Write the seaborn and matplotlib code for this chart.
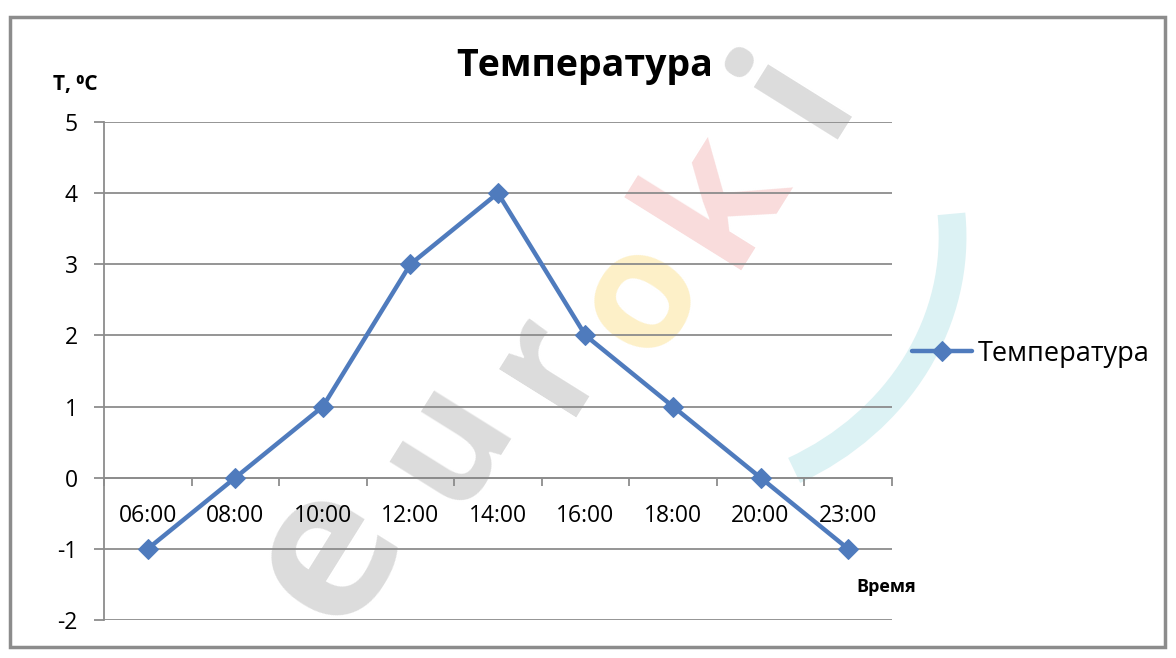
import matplotlib
matplotlib.use("Agg")
import matplotlib.pyplot as plt
import seaborn as sns
import pandas as pd
from matplotlib.patches import Rectangle, Arc

times = ["06:00", "08:00", "10:00", "12:00", "14:00", "16:00", "18:00", "20:00", "23:00"]
temps = [-1, 0, 1, 3, 4, 2, 1, 0, -1]
series_name = "Температура"

df = pd.DataFrame({"time": times, "temp": temps})

sns.set_style("white")
plt.rcParams["font.family"] = ["Open Sans", "DejaVu Sans"]
plt.rcParams["axes.unicode_minus"] = False
plt.rcParams["text.color"] = "black"

fig = plt.figure(figsize=(11.76, 6.58), dpi=100)
ax = fig.add_axes([0.0884, 0.0578, 0.670, 0.7568])
ax.set_zorder(2)

# faint watermark, drawn under the axes
wm = [("e", 0.28, 0.16, "#dcdcdc", 150), ("u", 0.38, 0.33, "#dcdcdc", 120),
      ("r", 0.465, 0.45, "#dcdcdc", 120), ("o", 0.545, 0.55, "#fdf0c8", 120),
      ("k", 0.61, 0.70, "#f9dcdc", 130), ("i", 0.68, 0.86, "#dcdcdc", 130)]
for ch, x, y, c, fs in wm:
    fig.text(x, y, ch, fontsize=fs, fontweight="bold", color=c, rotation=58,
             ha="center", va="center", zorder=-1)
arc = Arc((0.56, 0.64), 0.50, 0.80, angle=0, theta1=-72, theta2=8,
          transform=fig.transFigure, color="#dcf2f4", lw=20, zorder=-1)
fig.add_artist(arc)

ax.set_facecolor("none")
sns.lineplot(data=df, x="time", y="temp", ax=ax, color="#4f7bbd", linewidth=3.2,
             marker="D", markersize=10, markeredgecolor="#4f7bbd", label=series_name,
             sort=False, zorder=5)

ax.set_xlim(-0.5, len(times) - 0.5)
ax.set_ylim(-2, 5)
ax.set_yticks(range(-2, 6))
ax.yaxis.grid(True, color="#8c8c8c", linewidth=1.3)
ax.set_axisbelow(True)

for s in ["top", "right"]:
    ax.spines[s].set_visible(False)
ax.spines["left"].set_color("#8c8c8c")
ax.spines["left"].set_linewidth(1.3)
ax.spines["bottom"].set_position(("data", 0))
ax.spines["bottom"].set_color("#8c8c8c")
ax.spines["bottom"].set_linewidth(1.3)

ax.set_xticks(range(len(times)))
ax.set_xticklabels(times)
ax.set_xticks([i - 0.5 for i in range(len(times) + 1)], minor=True)
ax.tick_params(axis="x", which="major", length=0, pad=19, labelsize=16.5, labelcolor="black")
ax.tick_params(axis="x", which="minor", length=6, width=1.3, color="#8c8c8c", direction="out")
ax.tick_params(axis="y", length=7, width=1.3, color="#8c8c8c", direction="out",
               labelsize=16.5, pad=12, labelcolor="black")
ax.tick_params(axis="both", which="both", bottom=True, left=True)
ax.set_xlabel("")
ax.set_ylabel("")

leg = ax.legend(loc="center left", bbox_to_anchor=(0.995, 0.535), frameon=False,
                fontsize=19.5, handlelength=2.2, handletextpad=0.2)

fig.text(0.497, 0.90, "Температура", fontsize=27, fontweight="bold", ha="center", va="center")
fig.text(0.045, 0.872, "Т, ⁰С", fontsize=15, fontweight="bold", ha="left", va="center")
fig.text(0.728, 0.108, "Время", fontsize=13, fontweight="bold", ha="left", va="center")

fig.add_artist(Rectangle((0.0085, 0.017), 0.982, 0.957, transform=fig.transFigure,
                         fill=False, edgecolor="#8c8c8c", linewidth=2.5))

fig.savefig("out.png", dpi=100)
